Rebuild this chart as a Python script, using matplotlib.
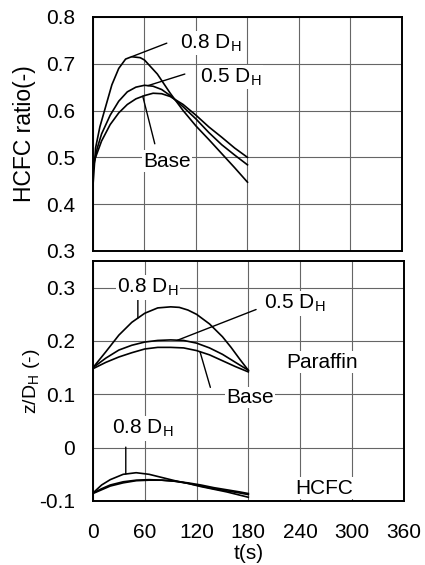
"""HCFC ratio and interface height vs time for three tank diameters"""
import numpy as np
import matplotlib
matplotlib.use("Agg")
import matplotlib.pyplot as plt

plt.rcParams['font.family'] = ['Liberation Sans', 'DejaVu Sans']
plt.rcParams['mathtext.fontset'] = 'custom'
plt.rcParams['mathtext.rm'] = 'Liberation Sans'

# --- HCFC ratio (upper panel) ---
t_ratio = [0, 3, 8, 15, 22, 30, 38, 45, 55, 60, 75, 90, 105, 120, 135, 150, 165, 180]
ratio_08 = [0.44, 0.52, 0.565, 0.61, 0.655, 0.69, 0.71, 0.715, 0.713, 0.708,
            0.678, 0.637, 0.600, 0.567, 0.538, 0.508, 0.478, 0.447]
t_ratio2 = [0, 5, 10, 20, 30, 40, 50, 60, 70, 80, 90, 105, 120, 135, 150, 165, 180]
ratio_05 = [0.475, 0.52, 0.55, 0.59, 0.62, 0.64, 0.65, 0.654, 0.652, 0.645,
            0.632, 0.608, 0.582, 0.553, 0.527, 0.505, 0.484]
ratio_base = [0.485, 0.51, 0.535, 0.57, 0.595, 0.613, 0.625, 0.632, 0.637, 0.636,
              0.63, 0.613, 0.59, 0.565, 0.543, 0.52, 0.50]

# --- z/DH, paraffin side (lower panel) ---
t_par = [0, 15, 30, 45, 60, 75, 90, 100, 110, 120, 135, 150, 160, 170, 180]
par_08 = [0.15, 0.18, 0.211, 0.235, 0.252, 0.262, 0.264, 0.263, 0.258, 0.25,
          0.232, 0.208, 0.188, 0.166, 0.145]
t_par2 = [0, 15, 30, 45, 60, 75, 90, 105, 120, 135, 150, 165, 180]
par_05 = [0.15, 0.168, 0.183, 0.192, 0.198, 0.201, 0.202, 0.201, 0.196, 0.187,
          0.175, 0.16, 0.145]
par_base = [0.148, 0.16, 0.17, 0.178, 0.185, 0.188, 0.188, 0.187, 0.182, 0.174,
            0.163, 0.152, 0.142]

# --- z/DH, HCFC side (lower panel) ---
t_hc = [0, 10, 20, 35, 50, 65, 80, 95, 110, 125, 140, 155, 170, 180]
hc_08 = [-0.085, -0.07, -0.06, -0.05, -0.047, -0.05, -0.056, -0.062, -0.067,
         -0.073, -0.078, -0.083, -0.089, -0.093]
hc_05 = [-0.085, -0.077, -0.07, -0.064, -0.061, -0.06, -0.061, -0.063, -0.067,
         -0.072, -0.077, -0.081, -0.085, -0.088]
hc_base = [-0.086, -0.079, -0.072, -0.066, -0.062, -0.061, -0.061, -0.063,
           -0.066, -0.07, -0.075, -0.079, -0.083, -0.086]

xticks = [0, 60, 120, 180, 240, 300, 360]

fig = plt.figure(figsize=(4.25, 5.65), dpi=100)
ax1 = fig.add_axes([0.2188, 0.5558, 0.727, 0.4142])
ax2 = fig.add_axes([0.2188, 0.1133, 0.731, 0.4248])

TXT = 15
box = dict(facecolor='white', edgecolor='none', pad=1.0)


def style(ax):
    ax.set_xlim(0, 360)
    ax.set_xticks(xticks)
    ax.grid(True, color='#666666', lw=0.8, zorder=0)
    ax.tick_params(length=0, labelsize=TXT)
    ax.tick_params(axis='y', pad=13)
    ax.tick_params(axis='x', pad=16)
    for s in ax.spines.values():
        s.set_linewidth(1.4)


def leader(ax, start, end):
    ax.annotate('', xy=end, xytext=start,
                arrowprops=dict(arrowstyle='-', lw=1.0, color='k',
                                shrinkA=0, shrinkB=0), zorder=4)


# upper panel
style(ax1)
ax1.set_ylim(0.3, 0.8)
ax1.set_yticks(np.arange(0.3, 0.81, 0.1))
ax1.set_yticklabels(['0.3', '0.4', '0.5', '0.6', '0.7', '0.8'])
ax1.set_xticklabels([])
for t, y in [(t_ratio, ratio_08), (t_ratio2, ratio_05), (t_ratio2, ratio_base)]:
    ax1.plot(t, y, color='k', lw=1.2, zorder=3)
ax1.set_ylabel('HCFC ratio(-)', fontsize=16.5, labelpad=7)

ax1.text(101, 0.744, r'0.8 D$_\mathregular{H}$', fontsize=TXT, ha='left',
         va='center', bbox=box, zorder=5)
leader(ax1, (86, 0.744), (45, np.interp(45, t_ratio, ratio_08)))
ax1.text(125, 0.672, r'0.5 D$_\mathregular{H}$', fontsize=TXT, ha='left',
         va='center', bbox=box, zorder=5)
leader(ax1, (107, 0.678), (64, np.interp(64, t_ratio2, ratio_05)))
ax1.text(86, 0.492, 'Base', fontsize=TXT, ha='center', va='center',
         bbox=box, zorder=5)
leader(ax1, (72, 0.529), (58, np.interp(58, t_ratio2, ratio_base)))

# lower panel
style(ax2)
ax2.set_ylim(-0.1, 0.35)
ax2.set_yticks([-0.1, 0, 0.1, 0.2, 0.3])
ax2.set_yticklabels(['-0.1', '0', '0.1', '0.2', '0.3'])
for t, y in [(t_par, par_08), (t_par2, par_05), (t_par2, par_base),
             (t_hc, hc_08), (t_hc, hc_05), (t_hc, hc_base)]:
    ax2.plot(t, y, color='k', lw=1.2, zorder=3)
ax2.set_ylabel(r'z/D$\mathregular{_H}$ (-)', fontsize=14, labelpad=-2)
ax2.set_xlabel('t(s)', fontsize=TXT, labelpad=1)

ax2.text(64, 0.30, r'0.8 D$_\mathregular{H}$', fontsize=TXT, ha='center',
         va='center', bbox=box, zorder=5)
leader(ax2, (52, 0.279), (52, np.interp(52, t_par, par_08)))
ax2.text(198, 0.27, r'0.5 D$_\mathregular{H}$', fontsize=TXT, ha='left',
         va='center', bbox=box, zorder=5)
leader(ax2, (189, 0.259), (98, np.interp(98, t_par2, par_05)))
ax2.text(182, 0.094, 'Base', fontsize=TXT, ha='center', va='center',
         bbox=box, zorder=5)
leader(ax2, (136, 0.113), (124, np.interp(124, t_par2, par_base)))
ax2.text(266, 0.16, 'Paraffin', fontsize=TXT, ha='center', va='center',
         bbox=box, zorder=5)
ax2.text(58, 0.036, r'0.8 D$_\mathregular{H}$', fontsize=TXT, ha='center',
         va='center', bbox=box, zorder=5)
leader(ax2, (38, 0.001), (38, np.interp(38, t_hc, hc_08)))
ax2.text(268, -0.076, 'HCFC', fontsize=TXT, ha='center', va='center',
         bbox=box, zorder=5)

plt.savefig("out.png", dpi=100)
